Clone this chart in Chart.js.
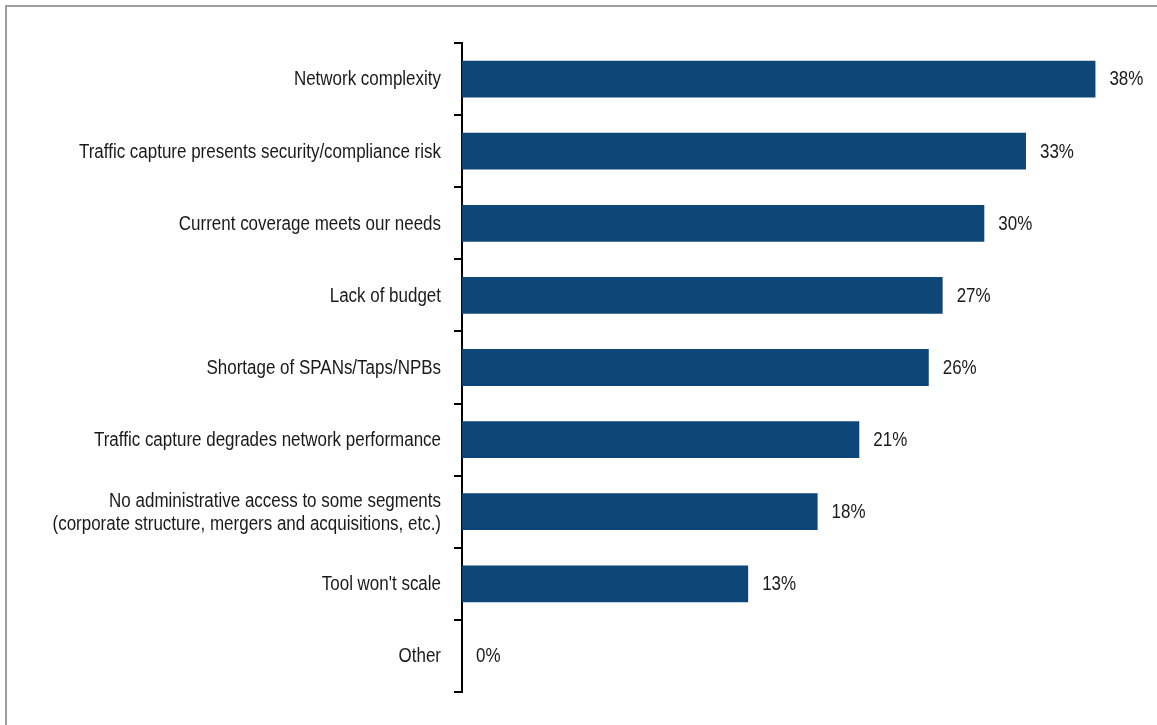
<!DOCTYPE html>
<html>
<head>
<meta charset="utf-8">
<script src="https://cdn.jsdelivr.net/npm/chart.js@4/dist/chart.umd.min.js"></script>
<style>
  html, body { margin: 0; padding: 0; background: #fff; }
  #wrap { width: 1157px; height: 725px; position: relative; }
</style>
</head>
<body>
<div id="wrap"><canvas id="c" width="1157" height="725"></canvas></div>
<script>
const categories = [
  'Network complexity',
  'Traffic capture presents security/compliance risk',
  'Current coverage meets our needs',
  'Lack of budget',
  'Shortage of SPANs/Taps/NPBs',
  'Traffic capture degrades network performance',
  ['No administrative access to some segments', '(corporate structure, mergers and acquisitions, etc.)'],
  "Tool won't scale",
  'Other'
];
const shares = [38, 33, 30, 27, 26, 21, 18, 13, 0];
const valueLabels = ['38%', '33%', '30%', '27%', '26%', '21%', '18%', '13%', '0%'];
const axisMin = -7.6;
const axisMax = 42;

const FONT = "19.5px 'Liberation Sans', Arial, sans-serif";
const NARROW = 0.87;   // horizontal squeeze to mimic a narrow face
const BAR_COLOR = '#0f4678';
const TEXT_COLOR = '#1a1a1a';

const frame = {
  id: 'frame',
  beforeDraw(chart) {
    const ctx = chart.ctx;
    ctx.save();
    ctx.strokeStyle = '#9e9e9e';
    ctx.lineWidth = 2;
    ctx.beginPath();
    ctx.moveTo(6, 725);
    ctx.lineTo(6, 6);
    ctx.lineTo(1157, 6);
    ctx.stroke();
    ctx.restore();
  }
};

function narrowText(ctx, text, x, y, align) {
  ctx.save();
  ctx.translate(x, y);
  ctx.scale(NARROW, 1);
  ctx.textAlign = align;
  ctx.fillText(text, 0, 0);
  ctx.restore();
}

const categoryText = {
  id: 'categoryText',
  afterDraw(chart) {
    const ctx = chart.ctx;
    const yScale = chart.scales.y;
    const xRight = yScale.right - 8 - 13;
    ctx.save();
    ctx.font = FONT;
    ctx.fillStyle = TEXT_COLOR;
    ctx.textBaseline = 'middle';
    categories.forEach((lab, i) => {
      const yc = yScale.getPixelForTick(i) + 1;
      const lines = Array.isArray(lab) ? lab : [lab];
      const lh = 23;
      const y0 = yc - (lines.length - 1) * lh / 2;
      lines.forEach((ln, k) => narrowText(ctx, ln, xRight, y0 + k * lh, 'right'));
    });
    ctx.restore();
  }
};

const valueText = {
  id: 'valueText',
  afterDatasetsDraw(chart) {
    const ctx = chart.ctx;
    const meta = chart.getDatasetMeta(0);
    ctx.save();
    ctx.font = FONT;
    ctx.fillStyle = TEXT_COLOR;
    ctx.textBaseline = 'middle';
    meta.data.forEach((el, i) => {
      const v = shares[i];
      const x = v > 0 ? el.x + 14 : chart.chartArea.left + 14;
      narrowText(ctx, valueLabels[i], x, el.y + 1, 'left');
    });
    ctx.restore();
  }
};

new Chart(document.getElementById('c'), {
  type: 'bar',
  data: {
    labels: categories,
    datasets: [{
      data: shares,
      base: axisMin,
      backgroundColor: (c) => (c.raw > 0 ? BAR_COLOR : 'rgba(0,0,0,0)'),
      borderWidth: 0,
      barPercentage: 0.51,
      categoryPercentage: 1.0
    }]
  },
  options: {
    indexAxis: 'y',
    responsive: false,
    animation: false,
    events: [],
    layout: { padding: { left: 0, right: 6, top: 43, bottom: 33 } },
    plugins: {
      legend: { display: false },
      tooltip: { enabled: false },
      title: { display: false }
    },
    scales: {
      x: {
        display: false,
        min: axisMin,
        max: axisMax
      },
      y: {
        position: 'left',
        afterFit(scale) { scale.width = 462; },
        grid: {
          offset: true,
          drawOnChartArea: false,
          drawTicks: true,
          tickLength: 8,
          color: '#000',
          lineWidth: 2
        },
        border: { display: true, color: '#000', width: 2 },
        ticks: { display: false, autoSkip: false }
      }
    }
  },
  plugins: [frame, categoryText, valueText]
});
</script>
</body>
</html>
